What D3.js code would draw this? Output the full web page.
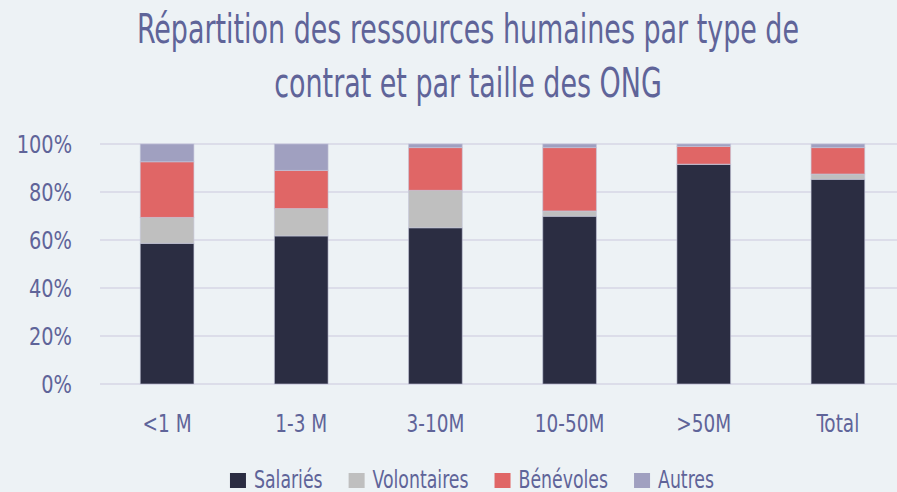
<!DOCTYPE html>
<html>
<head>
<meta charset="utf-8">
<script src="https://cdn.jsdelivr.net/npm/d3@7"></script>
<style>
  body { margin: 0; background: #edf2f5; }
  svg text { font-family: "DejaVu Sans Condensed", "Liberation Sans Narrow", Roboto, sans-serif; fill: #5f6499; }
</style>
</head>
<body>
<div id="chart"></div>
<script>
const svgWidth = 897;
const svgHeight = 492;

// data (percent of staff)
const categories = ["<1 M", "1-3 M", "3-10M", "10-50M", ">50M", "Total"];
const seriesNames = ["Salariés", "Volontaires", "Bénévoles", "Autres"];
const salaries = [58.6, 61.7, 65.1, 69.9, 91.5, 85.3];
const volontaires = [10.8, 11.4, 15.6, 2.2, 0.1, 2.2];
const benevoles = [23.2, 15.9, 17.8, 26.4, 7.4, 11.0];
const autres = [7.4, 11.0, 1.5, 1.5, 1.0, 1.5];
const yTicks = [0, 20, 40, 60, 80, 100];
const titleLines = ["Répartition des ressources humaines par type de", "contrat et par taille des ONG"];

const colors = ["#2b2d42", "#bfbfbf", "#e06666", "#a0a0c0"];

const margin = { top: 144, left: 100, bottom: 108 };
const height = svgHeight - margin.top - margin.bottom;

// the reference font is a narrow one, squeeze the glyphs to match
function condense(sel, factor) {
  sel.each(function() {
    const w = this.getComputedTextLength();
    d3.select(this)
      .attr("textLength", w * factor)
      .attr("lengthAdjust", "spacingAndGlyphs");
  });
}

const svg = d3.select("#chart")
  .append("svg")
  .attr("width", svgWidth)
  .attr("height", svgHeight);

// table for the stack
const table = categories.map((c, i) => ({
  cat: c,
  "Salariés": salaries[i],
  "Volontaires": volontaires[i],
  "Bénévoles": benevoles[i],
  "Autres": autres[i]
}));
const stacked = d3.stack().keys(seriesNames)(table);

const x = d3.scaleBand()
  .domain(categories)
  .range([margin.left, 905])
  .paddingInner(0.6)
  .paddingOuter(0.3);

const y = d3.scaleLinear()
  .domain([0, 100])
  .range([margin.top + height, margin.top]);

// title
svg.append("g")
  .selectAll("text")
  .data(titleLines)
  .join("text")
  .attr("x", 468)
  .attr("y", (d, i) => 43 + i * 54)
  .attr("text-anchor", "middle")
  .attr("font-size", "41px")
  .text(d => d)
  .call(condense, 0.73);

// gridlines
svg.append("g")
  .selectAll("line")
  .data(yTicks)
  .join("line")
  .attr("x1", margin.left)
  .attr("x2", svgWidth)
  .attr("y1", d => y(d))
  .attr("y2", d => y(d))
  .attr("stroke", "#dcdde9")
  .attr("stroke-width", 2);

// y axis
const leftAxis = d3.axisLeft(y)
  .tickValues(yTicks)
  .tickFormat(d => d + "%")
  .tickSize(0)
  .tickPadding(0);
const yAxis = svg.append("g")
  .attr("transform", `translate(72, 0)`)
  .call(leftAxis);
yAxis.select(".domain").remove();
yAxis.selectAll("text")
  .attr("font-size", "25px")
  .attr("font-family", null)
  .attr("fill", null)
  .call(condense, 0.86);

// x axis
const bottomAxis = d3.axisBottom(x).tickSize(0).tickPadding(0);
const xAxis = svg.append("g")
  .attr("transform", `translate(0, 432)`)
  .call(bottomAxis);
xAxis.select(".domain").remove();
xAxis.selectAll("text")
  .attr("dy", 0)
  .attr("font-size", "25px")
  .attr("font-family", null)
  .attr("fill", null)
  .call(condense, 0.82);

// bars
svg.append("g")
  .selectAll("g")
  .data(stacked)
  .join("g")
  .attr("fill", (d, i) => colors[i])
  .selectAll("rect")
  .data(d => d)
  .join("rect")
  .attr("x", d => x(d.data.cat))
  .attr("y", d => y(d[1]))
  .attr("width", x.bandwidth())
  .attr("height", d => y(d[0]) - y(d[1]))
  .attr("stroke", "#c4c6da")
  .attr("stroke-opacity", 0.6)
  .attr("stroke-width", 1);

// legend
const legend = svg.append("g");
const items = legend.selectAll("g")
  .data(seriesNames)
  .join("g");
items.append("rect")
  .attr("width", 16)
  .attr("height", 15)
  .attr("y", 473)
  .attr("fill", (d, i) => colors[i]);
items.append("text")
  .attr("x", 24)
  .attr("y", 488)
  .attr("font-size", "25px")
  .text(d => d)
  .call(condense, 0.77);

const widths = [];
items.each(function() {
  const t = d3.select(this).select("text");
  widths.push(24 + +t.attr("textLength"));
});
const gap = 26;
const total = d3.sum(widths) + gap * (widths.length - 1);
let cursor = 472 - total / 2;
items.attr("transform", (d, i) => {
  const t = `translate(${cursor}, 0)`;
  cursor += widths[i] + gap;
  return t;
});
</script>
</body>
</html>
